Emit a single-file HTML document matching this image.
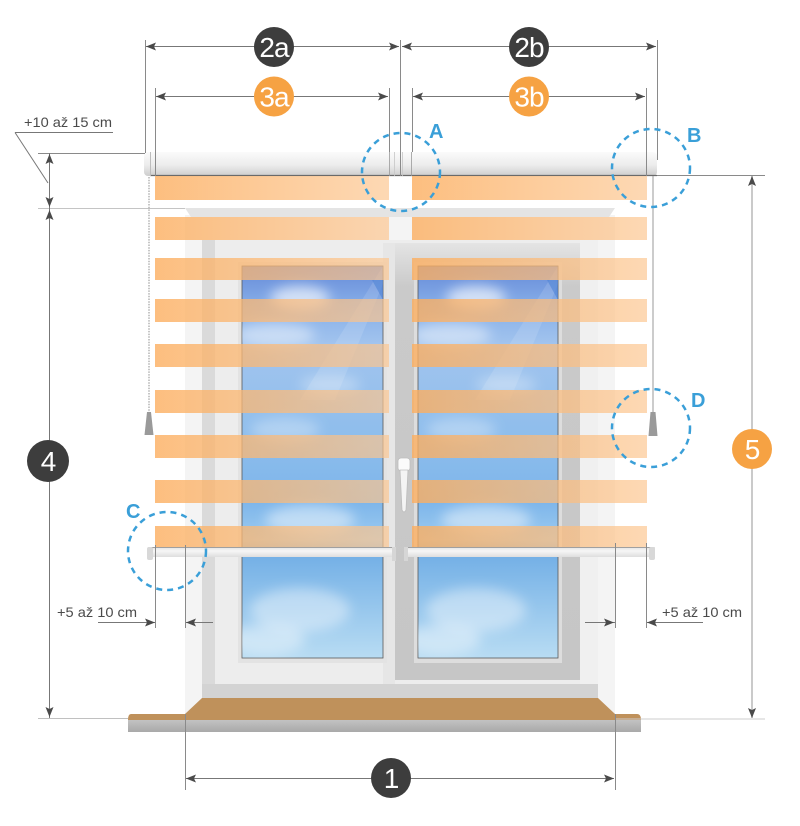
<!DOCTYPE html>
<html><head><meta charset="utf-8">
<style>
html,body{margin:0;padding:0;background:#fff;}
svg{display:block;}
text{font-family:"Liberation Sans",sans-serif;}
</style></head><body>
<svg width="800" height="826" viewBox="0 0 800 826" xmlns="http://www.w3.org/2000/svg">
<defs>
 <linearGradient id="slat" x1="0" y1="0" x2="1" y2="0">
  <stop offset="0" stop-color="#fcae5f" stop-opacity="0.8"/>
  <stop offset="1" stop-color="#fcc690" stop-opacity="0.68"/>
 </linearGradient>
 <linearGradient id="rail" x1="0" y1="0" x2="0" y2="1">
  <stop offset="0" stop-color="#fbfbfb"/>
  <stop offset="0.55" stop-color="#ececec"/>
  <stop offset="1" stop-color="#cdcdcd"/>
 </linearGradient>
 <linearGradient id="brail" x1="0" y1="0" x2="0" y2="1">
  <stop offset="0" stop-color="#e2e2e2"/>
  <stop offset="0.4" stop-color="#f6f6f6"/>
  <stop offset="1" stop-color="#dedede"/>
 </linearGradient>
 <linearGradient id="glass" gradientUnits="userSpaceOnUse" x1="0" y1="266" x2="0" y2="658">
  <stop offset="0" stop-color="#6589d8"/>
  <stop offset="0.1" stop-color="#86aee8"/>
  <stop offset="0.2" stop-color="#a2c4ee"/>
  <stop offset="0.45" stop-color="#8dbdec"/>
  <stop offset="0.6" stop-color="#7db5ea"/>
  <stop offset="0.7" stop-color="#9ccbf0"/>
  <stop offset="0.74" stop-color="#74b0e6"/>
  <stop offset="1" stop-color="#b8dcf3"/>
 </linearGradient>
 <linearGradient id="rsash" x1="0" y1="0" x2="0" y2="1">
  <stop offset="0" stop-color="#e4e4e4"/>
  <stop offset="0.1" stop-color="#cacaca"/>
  <stop offset="1" stop-color="#c6c6c6"/>
 </linearGradient>
 <linearGradient id="slab" x1="0" y1="0" x2="0" y2="1">
  <stop offset="0" stop-color="#c2c2c2"/>
  <stop offset="1" stop-color="#a9a9a9"/>
 </linearGradient>
 <filter id="blur" x="-50%" y="-50%" width="200%" height="200%"><feGaussianBlur stdDeviation="6"/></filter>
 <clipPath id="glL"><rect x="242" y="266" width="141" height="392"/></clipPath>
 <clipPath id="glR"><rect x="418" y="266" width="140" height="392"/></clipPath>
 <g id="clouds">
  <ellipse cx="300" cy="298" rx="30" ry="12" fill="#fff" opacity="0.65"/>
  <ellipse cx="275" cy="335" rx="40" ry="12" fill="#fff" opacity="0.45"/>
  <ellipse cx="330" cy="385" rx="30" ry="10" fill="#fff" opacity="0.3"/>
  <ellipse cx="285" cy="430" rx="35" ry="12" fill="#fff" opacity="0.3"/>
  <ellipse cx="310" cy="520" rx="45" ry="15" fill="#fff" opacity="0.45"/>
  <ellipse cx="300" cy="610" rx="50" ry="22" fill="#fff" opacity="0.4"/>
  <ellipse cx="265" cy="640" rx="40" ry="15" fill="#fff" opacity="0.4"/>
 </g>
</defs>

<!-- wall reveal -->
<rect x="185" y="215" width="430" height="500" fill="#f4f4f4"/>
<line x1="38" y1="208.5" x2="185" y2="208.5" stroke="#c4c4c4" stroke-width="1"/>
<polygon points="185,208 615,208 609,217 191,217" fill="#e4e4e4"/>

<!-- frame -->
<rect x="202" y="240" width="13" height="458" fill="#dadada"/>
<rect x="215" y="240" width="383" height="444" fill="#ededed"/>
<rect x="580" y="240" width="18" height="444" fill="#f0f0f0"/>
<rect x="202" y="684" width="396" height="14" fill="#d3d3d3"/>
<rect x="395" y="243" width="185" height="437" fill="url(#rsash)"/>
<rect x="383" y="243" width="12" height="441" fill="#e6e6e6"/>
<rect x="238" y="262" width="149" height="401" fill="#e3e3e3"/>
<rect x="414" y="262" width="148" height="401" fill="#dddddd"/>

<!-- glass -->
<rect x="242" y="266" width="141" height="392" fill="url(#glass)" stroke="#5a5a5a" stroke-width="0.8"/>
<rect x="418" y="266" width="140" height="392" fill="url(#glass)" stroke="#5a5a5a" stroke-width="0.8"/>
<g clip-path="url(#glL)">
 <g filter="url(#blur)"><use href="#clouds"/></g>
 <polygon points="383,266 383,284 335,400 300,400" fill="#ffffff" opacity="0.12"/>
 <polygon points="372,280 383,280 383,300" fill="#4f84d6" opacity="0.6"/>
</g>
<g clip-path="url(#glR)">
 <g filter="url(#blur)" transform="translate(176,0)"><use href="#clouds"/></g>
 <polygon points="558,266 558,284 510,400 475,400" fill="#ffffff" opacity="0.12"/>
 <polygon points="547,280 558,280 558,300" fill="#4f84d6" opacity="0.6"/>
</g>

<!-- handle -->
<rect x="398" y="458" width="12" height="13" rx="3" fill="#fbfbfb" stroke="#bdbdbd" stroke-width="0.8"/>
<path d="M400,470 L408,470 L406,510 Q404,514 402,510 Z" fill="#f4f4f4" stroke="#bdbdbd" stroke-width="0.8"/>

<!-- sill -->
<path d="M131,714 L185,714 L202,698 L598,698 L615,714 L637,714 Q641,714 641,720 L128,720 Q128,714 131,714 Z" fill="#bf915b"/>
<rect x="128" y="720" width="513" height="12" fill="url(#slab)"/>

<!-- headrail -->
<rect x="144" y="152" width="513" height="24" rx="4" fill="url(#rail)"/>
<line x1="150" y1="175.5" x2="657" y2="175.5" stroke="#6a6a6a" stroke-width="1.2"/>
<line x1="150.5" y1="152" x2="150.5" y2="176" stroke="#bdbdbd" stroke-width="1"/>
<line x1="389.5" y1="152" x2="389.5" y2="176" stroke="#9a9a9a" stroke-width="0.8"/>
<line x1="394.5" y1="152" x2="394.5" y2="176" stroke="#c6c6c6" stroke-width="0.8"/>
<line x1="402.5" y1="152" x2="402.5" y2="176" stroke="#c6c6c6" stroke-width="0.8"/>
<line x1="411.5" y1="152" x2="411.5" y2="176" stroke="#9a9a9a" stroke-width="0.8"/>
<line x1="646.5" y1="152" x2="646.5" y2="176" stroke="#c6c6c6" stroke-width="0.8"/>

<!-- slats -->
<g fill="url(#slat)">
 <rect x="155" y="176" width="234" height="24"/><rect x="412" y="176" width="235" height="24"/>
 <rect x="155" y="217" width="234" height="23"/><rect x="412" y="217" width="235" height="23"/>
 <rect x="155" y="258" width="234" height="22"/><rect x="412" y="258" width="235" height="22"/>
 <rect x="155" y="299" width="234" height="23"/><rect x="412" y="299" width="235" height="23"/>
 <rect x="155" y="344" width="234" height="23"/><rect x="412" y="344" width="235" height="23"/>
 <rect x="155" y="390" width="234" height="23"/><rect x="412" y="390" width="235" height="23"/>
 <rect x="155" y="435" width="234" height="23"/><rect x="412" y="435" width="235" height="23"/>
 <rect x="155" y="480" width="234" height="23"/><rect x="412" y="480" width="235" height="23"/>
 <rect x="155" y="526" width="234" height="22"/><rect x="412" y="526" width="235" height="22"/>
</g>

<!-- bottom rails -->
<rect x="148" y="547" width="246" height="10" fill="url(#brail)"/>
<line x1="150" y1="547.5" x2="394" y2="547.5" stroke="#8a8a8a" stroke-width="0.8"/>
<rect x="147" y="547" width="6" height="13" rx="2" fill="#d8d8d8"/>
<rect x="406" y="547" width="249" height="10" fill="url(#brail)"/>
<line x1="406" y1="547.5" x2="652" y2="547.5" stroke="#8a8a8a" stroke-width="0.8"/>
<rect x="649" y="547" width="6" height="13" rx="2" fill="#d8d8d8"/>
<rect x="392" y="547" width="4" height="14" fill="#d6d6d6"/>
<rect x="404" y="547" width="4" height="14" fill="#d6d6d6"/>

<!-- cords -->
<line x1="149" y1="177" x2="149" y2="412" stroke="#a8a8a8" stroke-width="1.3" stroke-dasharray="1.5 1.2"/>
<path d="M147,412 L151,412 L153.5,435 L144.5,435 Z" fill="#9a9a9a"/>
<line x1="653" y1="176" x2="653" y2="412" stroke="#9a9a9a" stroke-width="1"/>
<path d="M650.5,412 L655.5,412 L657.5,436 L648.5,436 Z" fill="#9a9a9a"/>

<!-- dimension lines -->
<g stroke="#8a8a8a" stroke-width="1" fill="none">
 <line x1="145.5" y1="40" x2="145.5" y2="153"/>
 <line x1="400.5" y1="40" x2="400.5" y2="176"/>
 <line x1="657.5" y1="40" x2="657.5" y2="160"/>
 <line x1="155.5" y1="88" x2="155.5" y2="176"/>
 <line x1="389.5" y1="88" x2="389.5" y2="152"/>
 <line x1="412.5" y1="88" x2="412.5" y2="152"/>
 <line x1="646.5" y1="88" x2="646.5" y2="176"/>
 <line x1="38" y1="153.5" x2="145" y2="153.5"/>
 <line x1="657" y1="175.5" x2="765" y2="175.5"/>
 <line x1="38" y1="718.5" x2="128" y2="718.5" stroke="#c0c0c0"/>
 <line x1="615" y1="719" x2="765" y2="719" stroke="#cccccc"/>
 <line x1="185.5" y1="714" x2="185.5" y2="790"/>
 <line x1="615.5" y1="714" x2="615.5" y2="790"/>
 <line x1="155.5" y1="545" x2="155.5" y2="628"/>
 <line x1="185.5" y1="545" x2="185.5" y2="628"/>
 <line x1="615.5" y1="543" x2="615.5" y2="628"/>
 <line x1="646.5" y1="543" x2="646.5" y2="628"/>
</g>
<g stroke="#777" stroke-width="1" fill="none">
 <line x1="146" y1="46.5" x2="399" y2="46.5"/>
 <line x1="402" y1="46.5" x2="656" y2="46.5"/>
 <line x1="156" y1="96.5" x2="388" y2="96.5"/>
 <line x1="413" y1="96.5" x2="645" y2="96.5"/>
 <line x1="15" y1="132.5" x2="113" y2="132.5"/>
 <line x1="15" y1="132.5" x2="48" y2="183"/>
 <line x1="49.5" y1="153" x2="49.5" y2="718"/>
 <line x1="186" y1="778.5" x2="614" y2="778.5"/>
 <line x1="98" y1="622.5" x2="155" y2="622.5"/>
 <line x1="186" y1="622.5" x2="213" y2="622.5"/>
 <line x1="585" y1="622.5" x2="615" y2="622.5"/>
 <line x1="647" y1="622.5" x2="703" y2="622.5"/>
</g>
<line x1="752" y1="176" x2="752" y2="718" stroke="#c4c4c4" stroke-width="1.8"/>

<!-- arrowheads -->
<g fill="#4a4a4a">
 <polygon points="146,46.5 156,42.5 154,46.5 156,50.5"/>
 <polygon points="399,46.5 389,42.5 391,46.5 389,50.5"/>
 <polygon points="402,46.5 412,42.5 410,46.5 412,50.5"/>
 <polygon points="656,46.5 646,42.5 648,46.5 646,50.5"/>
 <polygon points="156,96.5 166,92.5 164,96.5 166,100.5"/>
 <polygon points="388,96.5 378,92.5 380,96.5 378,100.5"/>
 <polygon points="413,96.5 423,92.5 421,96.5 423,100.5"/>
 <polygon points="645,96.5 635,92.5 637,96.5 635,100.5"/>
 <polygon points="49.5,154 45.5,164 49.5,162 53.5,164"/>
 <polygon points="49.5,207 45.5,197 49.5,199 53.5,197"/>
 <polygon points="49.5,210 45.5,220 49.5,218 53.5,220"/>
 <polygon points="49.5,717 45.5,707 49.5,709 53.5,707"/>
 <polygon points="752,176 748,186 752,184 756,186"/>
 <polygon points="752,718 748,708 752,710 756,708"/>
 <polygon points="186,778.5 196,774.5 194,778.5 196,782.5"/>
 <polygon points="614,778.5 604,774.5 606,778.5 604,782.5"/>
 <polygon points="155,622.5 145,618.5 147,622.5 145,626.5"/>
 <polygon points="186,622.5 196,618.5 194,622.5 196,626.5"/>
 <polygon points="614,622.5 604,618.5 606,622.5 604,626.5"/>
 <polygon points="647,622.5 657,618.5 655,622.5 657,626.5"/>
</g>

<!-- number circles -->
<circle cx="274" cy="47" r="20" fill="#3d3d3d"/>
<circle cx="529" cy="47" r="20" fill="#3d3d3d"/>
<circle cx="274" cy="96.5" r="20" fill="#f6a243"/>
<circle cx="529" cy="96.5" r="20" fill="#f6a243"/>
<circle cx="48" cy="461" r="21" fill="#3d3d3d"/>
<circle cx="752" cy="449" r="20" fill="#f6a243"/>
<circle cx="391" cy="778" r="20" fill="#3d3d3d"/>
<g fill="#fff" font-size="28" text-anchor="middle" letter-spacing="-1">
 <text x="274" y="57">2a</text>
 <text x="529" y="57">2b</text>
 <text x="274" y="106.5">3a</text>
 <text x="529" y="106.5">3b</text>
 <text x="48" y="471">4</text>
 <text x="752" y="459">5</text>
 <text x="391" y="788">1</text>
</g>

<!-- small texts -->
<g fill="#4a4a4a" font-size="14">
 <text x="24" y="127" textLength="88" lengthAdjust="spacingAndGlyphs">+10 až 15 cm</text>
 <text x="57" y="617" textLength="80" lengthAdjust="spacingAndGlyphs">+5 až 10 cm</text>
 <text x="662" y="617" textLength="80" lengthAdjust="spacingAndGlyphs">+5 až 10 cm</text>
</g>

<!-- dashed detail circles -->
<g fill="none" stroke="#3a9fd8" stroke-width="2.5" stroke-dasharray="6 5">
 <circle cx="401" cy="172" r="39"/>
 <circle cx="651" cy="168" r="39"/>
 <circle cx="167" cy="551" r="39"/>
 <circle cx="651" cy="428" r="39"/>
</g>
<g fill="#3a9fd8" font-size="20" font-weight="bold">
 <text x="429" y="138">A</text>
 <text x="687" y="142">B</text>
 <text x="126" y="518">C</text>
 <text x="691" y="407">D</text>
</g>
</svg>
</body></html>
